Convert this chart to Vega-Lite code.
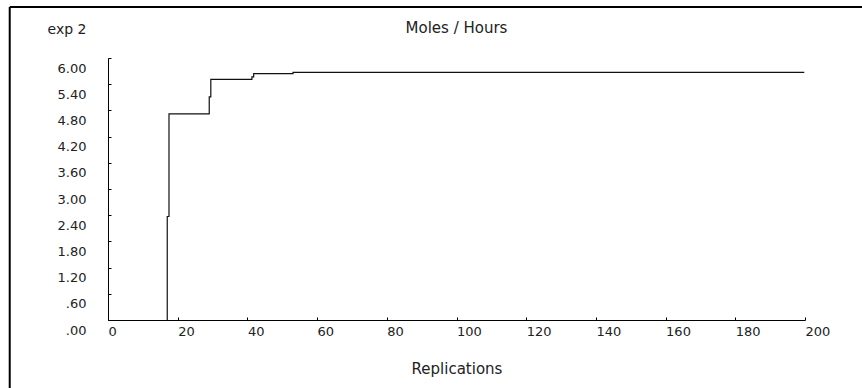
{
  "$schema": "https://vega.github.io/schema/vega-lite/v6.json",
  "width": 697,
  "height": 262,
  "autosize": {"type": "none"},
  "padding": {"left": 108, "top": 58, "right": 57, "bottom": 68},
  "background": "white",
  "config": {"view": {"stroke": null}, "font": "DejaVu Sans"},
  "title": {
    "text": "Moles / Hours",
    "font": "DejaVu Sans",
    "fontSize": 15,
    "fontWeight": "normal",
    "color": "#222",
    "anchor": "middle",
    "baseline": "middle",
    "offset": -22,
    "dy": 15
  },
  "datasets": {
    "series": [
      {"replication": 16.9, "value": 0},
      {"replication": 17.0, "value": 2.37},
      {"replication": 17.5, "value": 4.72},
      {"replication": 29.05, "value": 5.11},
      {"replication": 29.5, "value": 5.51},
      {"replication": 41.3, "value": 5.57},
      {"replication": 41.8, "value": 5.64},
      {"replication": 53.1, "value": 5.67},
      {"replication": 199.8, "value": 5.67}
    ]
  },
  "resolve": {"axis": {"x": "independent", "y": "independent"}},
  "layer": [
    {
      "data": {"name": "series"},
      "mark": {"type": "line", "interpolate": "step-after", "color": "#111", "strokeWidth": 1.2},
      "encoding": {
        "x": {
          "field": "replication",
          "type": "quantitative",
          "scale": {"domain": [0, 200], "nice": false, "zero": false},
          "axis": {
            "title": "Replications",
            "values": [0, 20, 40, 60, 80, 100, 120, 140, 160, 180, 200],
            "grid": false,
            "tickSize": -3,
            "tickColor": "#000",
            "domainColor": "#000",
            "labelAlign": "left",
            "labelBaseline": "top",
            "labelPadding": 8,
            "labelFont": "DejaVu Sans",
            "labelFontSize": 13,
            "labelColor": "#222",
            "labelFlush": false,
            "labelOverlap": false,
            "titleFont": "DejaVu Sans",
            "titleFontSize": 15,
            "titleFontWeight": "normal",
            "titleColor": "#222",
            "titleBaseline": "middle",
            "titleY": 48
          }
        },
        "y": {
          "field": "value",
          "type": "quantitative",
          "scale": {"domain": [0, 6], "nice": false, "zero": false},
          "axis": {
            "title": "exp 2",
            "values": [0, 0.6, 1.2, 1.8, 2.4, 3, 3.6, 4.2, 4.8, 5.4, 6],
            "labelExpr": "datum.value < 1 ? slice(format(datum.value, '.2f'), 1) : format(datum.value, '.2f')",
            "grid": false,
            "tickSize": -3,
            "tickColor": "#000",
            "domainColor": "#000",
            "labelPadding": 25,
            "labelOffset": 10,
            "labelFont": "DejaVu Sans",
            "labelFontSize": 13,
            "labelColor": "#222",
            "labelFlush": false,
            "labelOverlap": false,
            "titleFont": "DejaVu Sans",
            "titleFontSize": 14,
            "titleFontWeight": "normal",
            "titleColor": "#222",
            "titleAngle": 0,
            "titleAlign": "right",
            "titleBaseline": "middle",
            "titleX": -22,
            "titleY": -29
          }
        }
      }
    },
    {
      "data": {"values": [{}]},
      "mark": {"type": "rule", "color": "#000", "strokeWidth": 2},
      "encoding": {
        "x": {"datum": -28.2, "type": "quantitative", "axis": null},
        "x2": {"datum": 260},
        "y": {"datum": 7.168, "type": "quantitative", "axis": null}
      }
    },
    {
      "data": {"values": [{}]},
      "mark": {"type": "rule", "color": "#000", "strokeWidth": 2},
      "encoding": {
        "x": {"datum": -28.2, "type": "quantitative", "axis": null},
        "y": {"datum": 7.168, "type": "quantitative", "axis": null},
        "y2": {"datum": -3}
      }
    }
  ]
}
